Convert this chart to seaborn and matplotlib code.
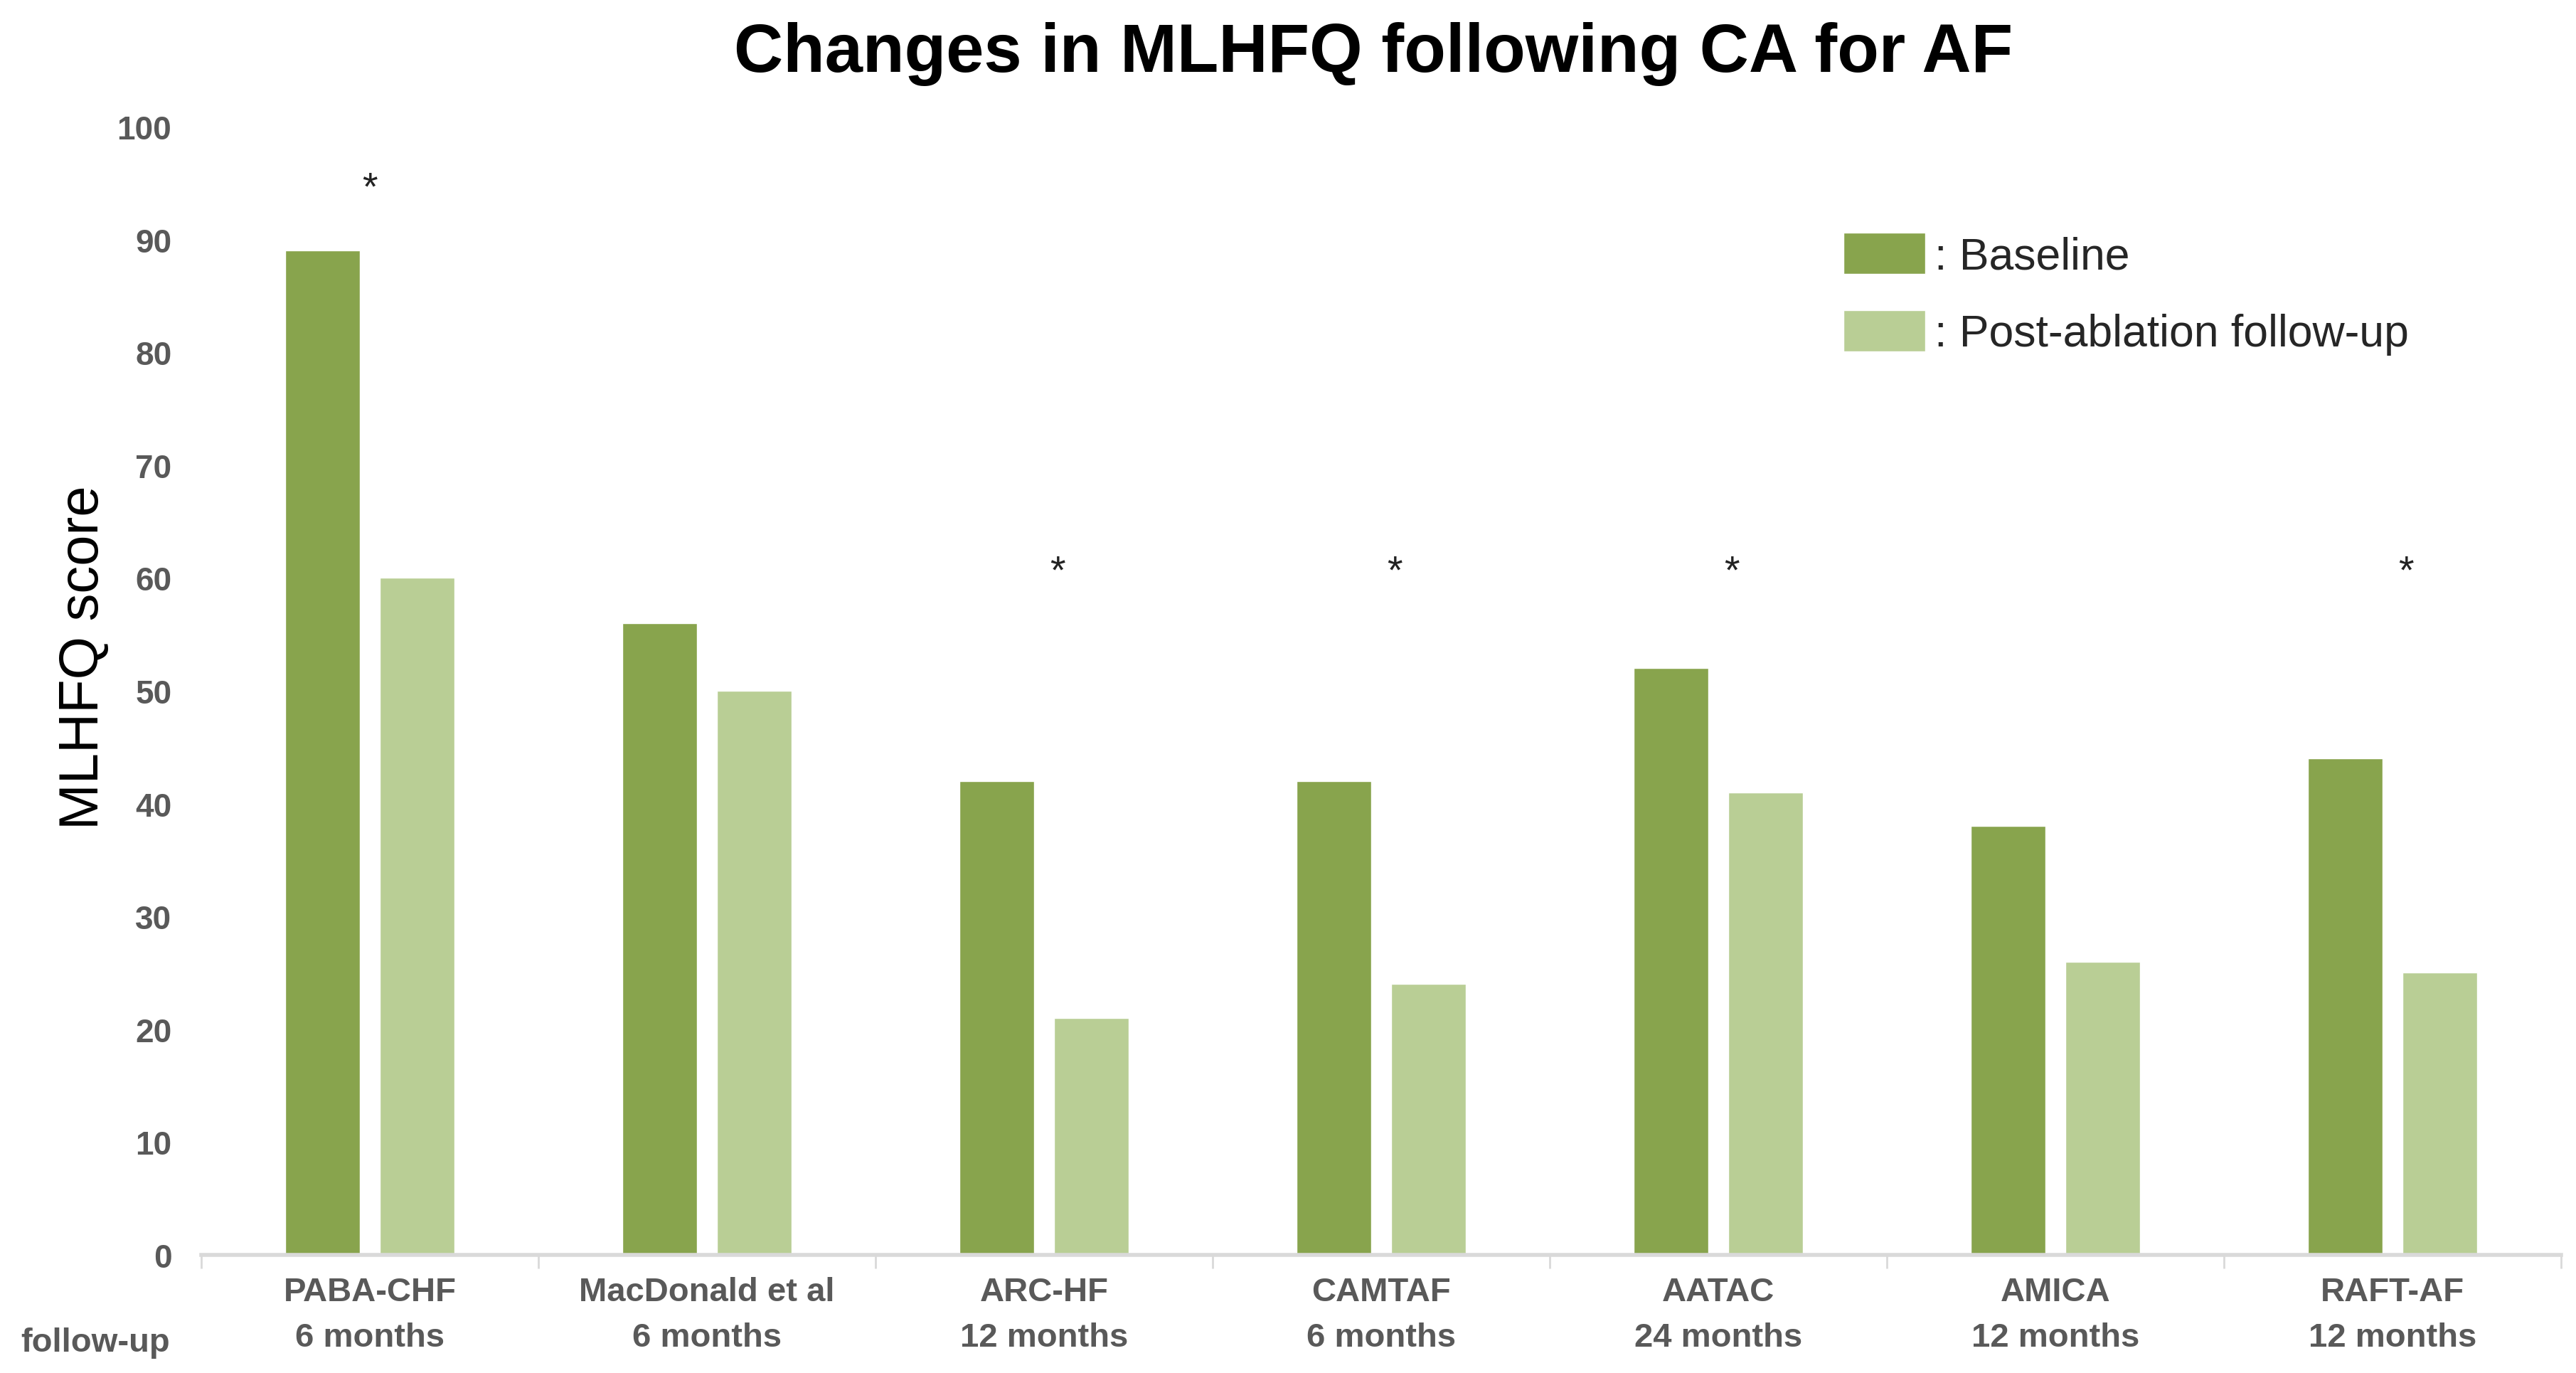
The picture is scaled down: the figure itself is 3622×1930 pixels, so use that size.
import matplotlib
matplotlib.use("Agg")
import matplotlib.pyplot as plt
import seaborn as sns
import pandas as pd
import numpy as np

studies = ["PABA-CHF", "MacDonald et al", "ARC-HF", "CAMTAF", "AATAC", "AMICA", "RAFT-AF"]
followup = ["6 months", "6 months", "12 months", "6 months", "24 months", "12 months", "12 months"]
baseline = [89, 56, 42, 42, 52, 38, 44]
post = [60, 50, 21, 24, 41, 26, 25]
series = [": Baseline", ": Post-ablation follow-up"]
star_studies = ["PABA-CHF", "ARC-HF", "CAMTAF", "AATAC", "RAFT-AF"]
star_y = [94.5, 60.5, 60.5, 60.5, 60.5]
yticks = [0, 10, 20, 30, 40, 50, 60, 70, 80, 90, 100]

df = pd.DataFrame({
    "study": studies * 2,
    "series": [series[0]] * len(studies) + [series[1]] * len(studies),
    "score": baseline + post,
})

sns.set_theme(style="white")
plt.rcParams["font.family"] = ["Liberation Sans", "DejaVu Sans"]

fig = plt.figure(figsize=(36.23, 19.31), dpi=100)
ax = fig.add_axes([0.0781, 0.086, 0.9158, 0.8213])

colors = ["#88A44D", "#B9CE95"]
sns.barplot(data=df, x="study", y="score", hue="series", order=studies,
            hue_order=series, palette=colors, width=0.56, gap=0.21,
            saturation=1, ax=ax, legend=True)

ax.set_xlim(-0.5, len(studies) - 0.5)
ax.set_ylim(0, 100)
ax.set_yticks(yticks)
ax.set_yticklabels([str(v) for v in yticks], fontsize=33, fontweight="bold", color="#595959")
ax.tick_params(axis="y", length=0, pad=30)

ax.set_xticks(range(len(studies)))
ax.set_xticklabels([f"{s}\n{f}" for s, f in zip(studies, followup)],
                   fontsize=34, fontweight="bold", color="#595959", linespacing=1.58)
ax.tick_params(axis="x", which="major", length=0, pad=22, bottom=True)
ax.set_xticks(np.arange(-0.5, len(studies), 1.0), minor=True)
ax.tick_params(axis="x", which="minor", length=14, width=2, color="#D9D9D9",
               direction="out", bottom=True)

for side in ["left", "right", "top"]:
    ax.spines[side].set_visible(False)
ax.spines["bottom"].set_color("#D9D9D9")
ax.spines["bottom"].set_linewidth(4)

ax.set_xlabel("")
ax.set_ylabel("MLHFQ score", fontsize=56, color="black", labelpad=40)
ax.yaxis.set_label_coords(-0.039, 0.53)

for s, yv in zip(star_studies, star_y):
    i = studies.index(s)
    ax.text(i + (0.0 if i == 0 else 0.04), yv, "*", fontsize=40, ha="center", va="center",
            color="#222222")

fig.text(0.533, 0.984, "Changes in MLHFQ following CA for AF", fontsize=69,
         fontweight="bold", ha="center", va="top", color="black")
fig.text(0.037, 0.0225, "follow-up", fontsize=34, fontweight="bold", color="#595959",
         ha="center", va="center")

leg = ax.legend(loc="upper left", bbox_to_anchor=(0.7153, 0.830), bbox_transform=fig.transFigure,
                frameon=False, fontsize=45, handlelength=1.85, handleheight=1.05,
                handletextpad=0.2, labelspacing=0.72, borderpad=0, borderaxespad=0)

fig.savefig("out.png", dpi=100)
